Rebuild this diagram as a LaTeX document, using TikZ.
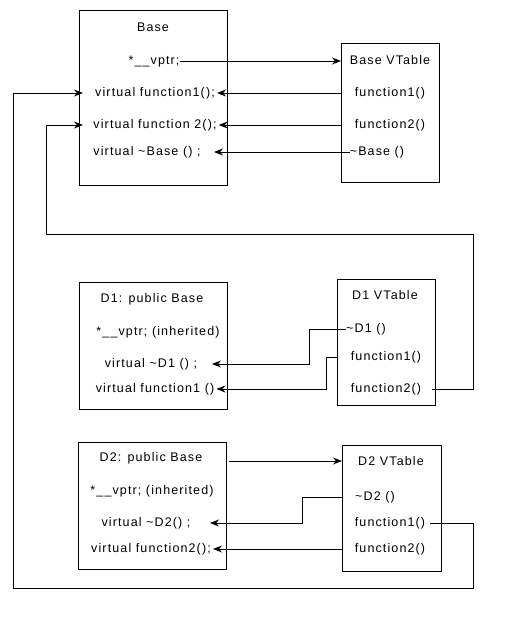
\documentclass[tikz,border=0pt]{standalone}
\usepackage{fontspec}
\setmainfont{Liberation Sans}[LetterSpace=9]
\usetikzlibrary{arrows.meta,calc}
\begin{document}
\begin{tikzpicture}[x=1pt,y=-1pt,
  box/.style={draw,line width=1pt,anchor=north west,inner sep=0pt,outer sep=0pt},
  txt/.style={inner sep=0pt,font=\fontsize{12.5}{14}\selectfont},
  arr/.style={line width=1pt,-{Stealth[length=9pt,width=7pt]}}]
\useasboundingbox (0,0) rectangle (505,619);
% boxes
\node[box,minimum width=148pt,minimum height=175pt] (base) at (79,10) {};
\node[box,minimum width=98pt,minimum height=139pt] (basevt) at (341,43) {};
\node[box,minimum width=148pt,minimum height=127pt] (d1) at (79,282) {};
\node[box,minimum width=98pt,minimum height=126pt] (d1vt) at (337,279) {};
\node[box,minimum width=148pt,minimum height=127pt] (d2) at (78,442) {};
\node[box,minimum width=99pt,minimum height=126pt] (d2vt) at (342,445) {};
% Base texts
\node[txt] (bt) at (153,27) {Base};
\node[txt] (bp) at (154,61) {*\_\_vptr;};
\node[txt] (bf1) at (155,93) {virtual function1();};
\node[txt] (bf2) at (155,125) {virtual function 2();};
\node[txt] (bd) at (147,152) {virtual \textasciitilde Base () ;};
\node[txt] (bvt) at (390,60) {Base VTable};
\node[txt] (bv1) at (390,93) {function1()};
\node[txt] (bv2) at (390,125) {function2()};
\node[txt] (bvd) at (377,152) {\textasciitilde Base ()};
% D1 texts
\node[txt] (d1t) at (152,299) {D1: public Base};
\node[txt] (d1p) at (158,332) {*\_\_vptr; (inherited)};
\node[txt] (d1d) at (151,364) {virtual \textasciitilde D1 () ;};
\node[txt] (d1f) at (155,389) {virtual function1 ()};
\node[txt] (d1vtt) at (385,295) {D1 VTable};
\node[txt] (d1vd) at (366,329) {\textasciitilde D1 ()};
\node[txt] (d1v1) at (386,357) {function1()};
\node[txt] (d1v2) at (386,389) {function2()};
% D2 texts
\node[txt] (d2t) at (151,458) {D2: public Base};
\node[txt] (d2p) at (152,491) {*\_\_vptr; (inherited)};
\node[txt] (d2d) at (146,523) {virtual \textasciitilde D2() ;};
\node[txt] (d2f) at (151,549) {virtual function2();};
\node[txt] (d2vtt) at (391,461) {D2 VTable};
\node[txt] (d2vd) at (375,497) {\textasciitilde D2 ()};
\node[txt] (d2v1) at (390,523) {function1()};
\node[txt] (d2v2) at (390,549) {function2()};
% corner coordinates
\coordinate (r1) at (473,234);
\coordinate (l1) at (46,234);
\coordinate (r2) at (473,588);
\coordinate (l2) at (13,588);
% Base connectors
\draw[arr] (bp.east) -- (basevt.west |- bp.east);
\draw[arr] (basevt.west |- bv1) -- ($(bf1.east |- bv1)+(2,0)$);
\draw[arr] (basevt.west |- bv2) -- ($(bf2.east |- bv2)+(2,0)$);
\draw[arr] (bvd.west) -- ($(base.east |- bvd)+(-13,0)$);
% long connectors
\draw[arr] ($(d1v2.east)+(11,0)$) -| (r1) -- (l1) |- ($(base.west |- bf2)+(4,0)$);
\draw[arr] ($(d2v1.east)+(5,0)$) -| (r2) -- (l2) |- ($(base.west |- bf1)+(4,0)$);
% D1 connectors
\draw[arr] (d1vd.west) -- ++(-37,0) |- ($(d1.east |- d1d)+(-15,0)$);
\draw[arr] (d1vt.west |- d1v1) -- ++(-11,0) |- ($(d1f.east)+(2,0)$);
% D2 connectors
\draw[arr] ($(d2.east |- d2vtt)+(3,0)$) -- (d2vt.west |- d2vtt);
\draw[arr] (d2vt.west |- d2vd) -- ++(-40,0) |- ($(d2.east |- d2d)+(-16,0)$);
\draw[arr] (d2vt.west |- d2v2) -- ($(d2f.east |- d2v2)+(2,0)$);
\end{tikzpicture}
\end{document}
